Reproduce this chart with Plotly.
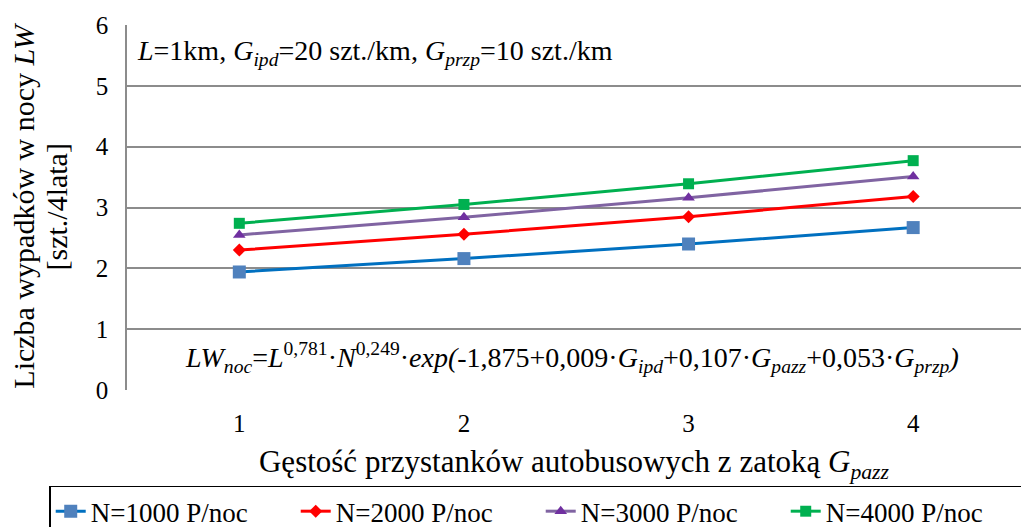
import plotly.graph_objects as go

categories = [1, 2, 3, 4]
series_names = ["N=1000 P/noc", "N=2000 P/noc", "N=3000 P/noc", "N=4000 P/noc"]
lw_1000 = [1.94, 2.16, 2.40, 2.67]
lw_2000 = [2.30, 2.56, 2.85, 3.18]
lw_3000 = [2.55, 2.84, 3.16, 3.51]
lw_4000 = [2.74, 3.05, 3.39, 3.77]
y_ticks = [0, 1, 2, 3, 4, 5, 6]

FONT = "'Liberation Serif', 'DejaVu Serif', serif"

styles = [
    dict(line="#0070C0", marker="#4F81BD", symbol="square", size=13),
    dict(line="#FF0000", marker="#FF0000", symbol="diamond", size=10),
    dict(line="#8064A2", marker="#7030A0", symbol="triangle-up", size=11),
    dict(line="#00B050", marker="#00B050", symbol="square", size=11),
]

fig = go.Figure()
for name, vals, st in zip(series_names, [lw_1000, lw_2000, lw_3000, lw_4000], styles):
    fig.add_trace(go.Scatter(
        x=categories, y=vals, name=name, mode="lines+markers",
        line=dict(color=st["line"], width=3),
        marker=dict(color=st["marker"], symbol=st["symbol"], size=st["size"]),
    ))

fig.update_layout(
    width=1021, height=527,
    margin=dict(l=127, r=0, t=25, b=137, autoexpand=False),
    paper_bgcolor="white", plot_bgcolor="white",
    font=dict(family=FONT, size=25, color="black"),
    showlegend=True,
    legend=dict(
        orientation="h", x=-0.087, y=-0.262, xanchor="left", yanchor="top",
        bordercolor="black", borderwidth=1.5,
        font=dict(family=FONT, size=27, color="black"),
        tracegroupgap=0, entrywidth=200, entrywidthmode="pixels",
    ),
    xaxis=dict(
        range=[0.5, 4.48], tickvals=categories, ticktext=[str(c) for c in categories],
        showgrid=False, zeroline=False, showline=False, ticks="",
        tickfont=dict(family=FONT, size=25), ticklabelstandoff=16,
        title=dict(text="Gęstość przystanków autobusowych z zatoką <i>G</i><sub><i>pazz</i></sub>",
                   font=dict(family=FONT, size=31), standoff=14),
    ),
    yaxis=dict(
        range=[0, 6], tickvals=y_ticks,
        showgrid=True, gridcolor="#8C8C8C", gridwidth=1.5,
        zeroline=False, showline=True, linecolor="#8C8C8C", linewidth=1.5,
        ticks="", tickfont=dict(family=FONT, size=25), ticklabelstandoff=12,
    ),
)

fig.add_annotation(
    xref="paper", yref="paper", x=-0.1152, y=0.505, xanchor="center", yanchor="middle",
    showarrow=False, textangle=-90,
    text="Liczba wypadków w nocy <i>LW</i>",
    font=dict(family=FONT, size=30),
)
fig.add_annotation(
    xref="paper", yref="paper", x=-0.0794, y=0.5, xanchor="center", yanchor="middle",
    showarrow=False, textangle=-90,
    text="[szt./4lata]",
    font=dict(family=FONT, size=30),
)
fig.add_annotation(
    xref="paper", yref="paper", x=0.009, y=0.926, xanchor="left", yanchor="middle",
    showarrow=False,
    text="<i>L</i>=1km, <i>G</i><sub><i>ipd</i></sub>=20 szt./km, <i>G</i><sub><i>przp</i></sub>=10 szt./km",
    font=dict(family=FONT, size=28),
)
fig.add_annotation(
    xref="paper", yref="paper", x=0.063, y=0.09, xanchor="left", yanchor="middle",
    showarrow=False,
    text=("<i>LW</i><sub><i>noc</i></sub>=<i>L</i><sup>0,781</sup>·<i>N</i><sup>0,249</sup>·<i>exp(</i>-1,875+0,009·<i>G</i><sub><i>ipd</i></sub>"
          "+0,107·<i>G</i><sub><i>pazz</i></sub>+0,053·<i>G</i><sub><i>przp</i></sub><i>)</i>"),
    font=dict(family=FONT, size=28),
)

fig.write_html("out.html")
